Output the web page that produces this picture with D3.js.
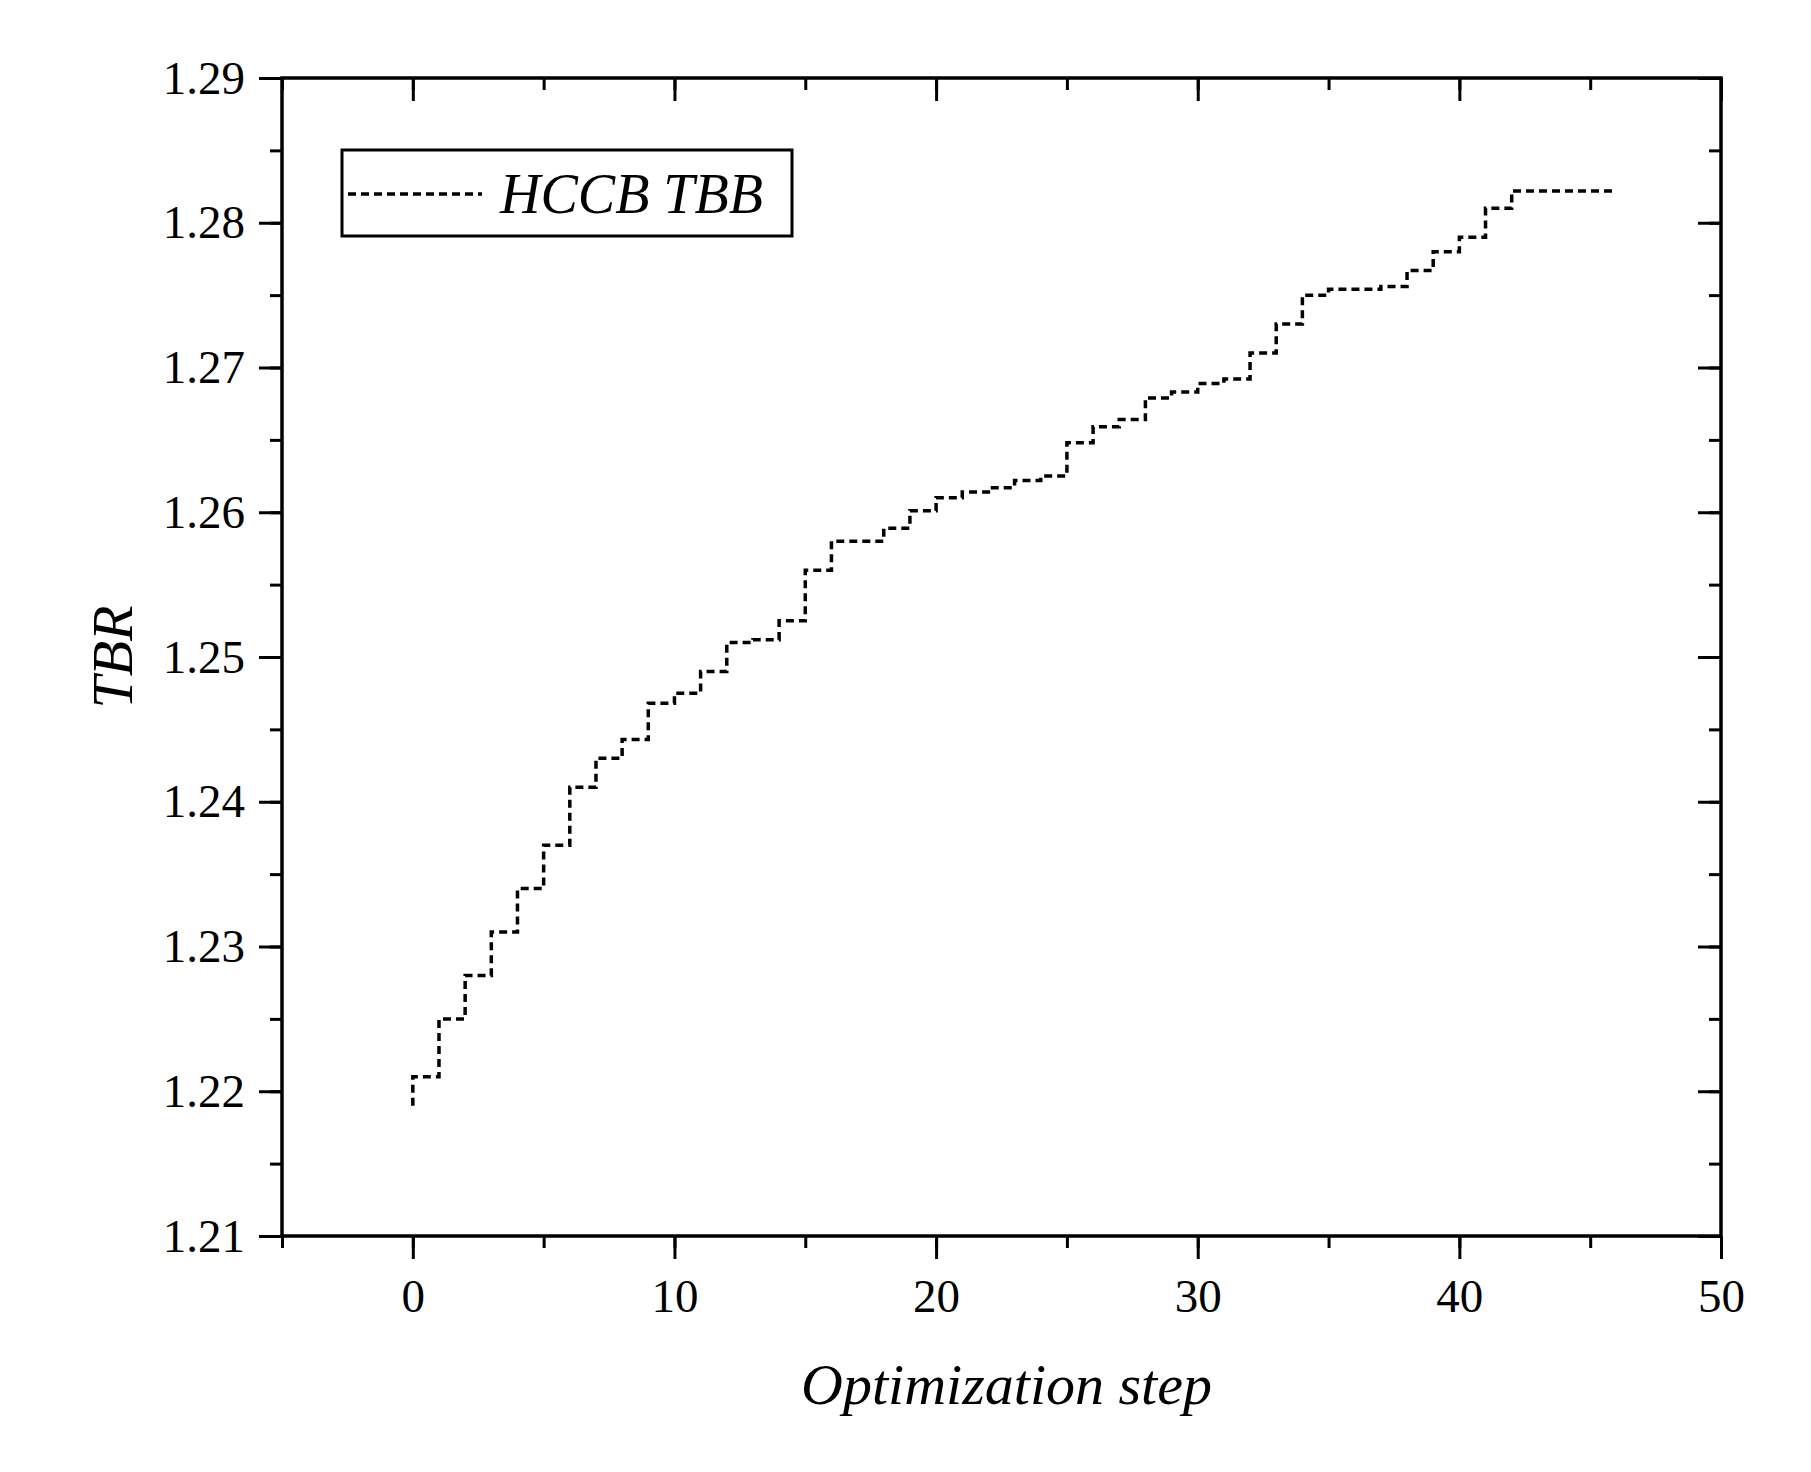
<!DOCTYPE html>
<html>
<head>
<meta charset="utf-8">
<script src="https://cdn.jsdelivr.net/npm/d3@7"></script>
<style>
body { margin: 0; background: #fff; }
text { font-family: "Liberation Serif", "DejaVu Serif", serif; fill: #000; }
</style>
</head>
<body>
<div id="chart"></div>
<script>
// optimization step and TBR value held from that step on
const steps = [0, 0, 1, 2, 3, 4, 5, 6, 7, 8, 9, 10, 11, 12, 13, 14, 15, 16, 17, 18, 19, 20, 21, 22, 23,
    24, 25, 26, 27, 28, 29, 30, 31, 32, 33, 34, 35, 36, 37, 38, 39, 40, 41, 42, 43, 44, 45, 46];
const tbr = [1.219, 1.221, 1.225, 1.228, 1.231, 1.234, 1.237, 1.241, 1.243, 1.2443, 1.2468, 1.2475, 1.249,
    1.251, 1.2512, 1.2525, 1.256, 1.258, 1.258, 1.2589, 1.2601, 1.261, 1.2614, 1.2617, 1.2622, 1.2625,
    1.2648, 1.2659, 1.2664, 1.2679, 1.2683, 1.2689, 1.2692, 1.271, 1.273, 1.275, 1.2754, 1.2754, 1.2756,
    1.2767, 1.278, 1.279, 1.281, 1.2822, 1.2822, 1.2822, 1.2822, 1.2822];
const xTicks = [0, 10, 20, 30, 40, 50];
const yTicks = [1.21, 1.22, 1.23, 1.24, 1.25, 1.26, 1.27, 1.28, 1.29];
const seriesName = 'HCCB TBB';

const margin = {top: 78, right: 90, bottom: 236, left: 282};
const width = 1811 - margin.left - margin.right;
const height = 1472 - margin.top - margin.bottom;

const svg = d3.select('#chart')
    .append('svg')
    .attr('width', 1811)
    .attr('height', 1472)
    .append('g')
    .attr('transform', `translate(${margin.left}, ${margin.top})`);

const x = d3.scaleLinear().domain([-5, 50]).range([0, width]);
const y = d3.scaleLinear().domain([1.21, 1.29]).range([height, 0]);

const xMinor = d3.range(-5, 51, 5);
const yMinor = d3.range(0, 17).map(i => 1.21 + i * 0.005);

function styleAxis(g) {
    g.select('.domain').remove();
    g.selectAll('line').attr('stroke', '#000').attr('stroke-width', 3);
    g.selectAll('text').attr('font-size', 47);
}

// minor ticks
svg.append('g').attr('transform', `translate(0, ${height})`)
    .call(d3.axisBottom(x).tickValues(xMinor).tickSize(12).tickFormat(''))
    .call(styleAxis);
svg.append('g')
    .call(d3.axisTop(x).tickValues(xMinor).tickSize(-12).tickFormat(''))
    .call(styleAxis);
svg.append('g')
    .call(d3.axisLeft(y).tickValues(yMinor).tickSize(12).tickFormat(''))
    .call(styleAxis);
svg.append('g').attr('transform', `translate(${width}, 0)`)
    .call(d3.axisRight(y).tickValues(yMinor).tickSize(-12).tickFormat(''))
    .call(styleAxis);

// major ticks
svg.append('g').attr('transform', `translate(0, ${height})`)
    .call(d3.axisBottom(x).tickValues(xTicks).tickSize(23).tickPadding(20).tickFormat(d3.format('d')))
    .call(styleAxis);
svg.append('g')
    .call(d3.axisTop(x).tickValues(xTicks).tickSize(-23).tickFormat(''))
    .call(styleAxis);
svg.append('g')
    .call(d3.axisLeft(y).tickValues(yTicks).tickSize(23).tickPadding(14).tickFormat(d3.format('.2f')))
    .call(styleAxis);
svg.append('g').attr('transform', `translate(${width}, 0)`)
    .call(d3.axisRight(y).tickValues(yTicks).tickSize(-23).tickFormat(''))
    .call(styleAxis);

// frame
svg.append('rect')
    .attr('width', width).attr('height', height)
    .attr('fill', 'none').attr('stroke', '#000').attr('stroke-width', 3.5);

// step line
const data = steps.map((s, i) => ({x: s, y: tbr[i]}));
svg.append('path')
    .datum(data)
    .attr('fill', 'none')
    .attr('stroke', '#000')
    .attr('stroke-width', 3.5)
    .attr('stroke-dasharray', '8,5')
    .attr('d', d3.line().x(d => x(d.x)).y(d => y(d.y)).curve(d3.curveStepAfter));

// legend
const leg = svg.append('g').attr('transform', 'translate(60, 72)');
leg.append('rect').attr('width', 450).attr('height', 86)
    .attr('fill', '#fff').attr('stroke', '#000').attr('stroke-width', 3);
leg.append('line').attr('x1', 6).attr('x2', 140).attr('y1', 44).attr('y2', 44)
    .attr('stroke', '#000').attr('stroke-width', 3.5).attr('stroke-dasharray', '8,5');
leg.append('text').attr('x', 158).attr('y', 63)
    .attr('font-size', 56).attr('font-style', 'italic').text(seriesName);

// axis titles
svg.append('text')
    .attr('x', x(22.5) + 5).attr('y', height + 168)
    .attr('text-anchor', 'middle').attr('font-size', 58).attr('font-style', 'italic')
    .text('Optimization step');
svg.append('text')
    .attr('transform', `translate(${-150}, ${y(1.25)}) rotate(-90)`)
    .attr('text-anchor', 'middle').attr('font-size', 58).attr('font-style', 'italic')
    .text('TBR');
</script>
</body>
</html>
